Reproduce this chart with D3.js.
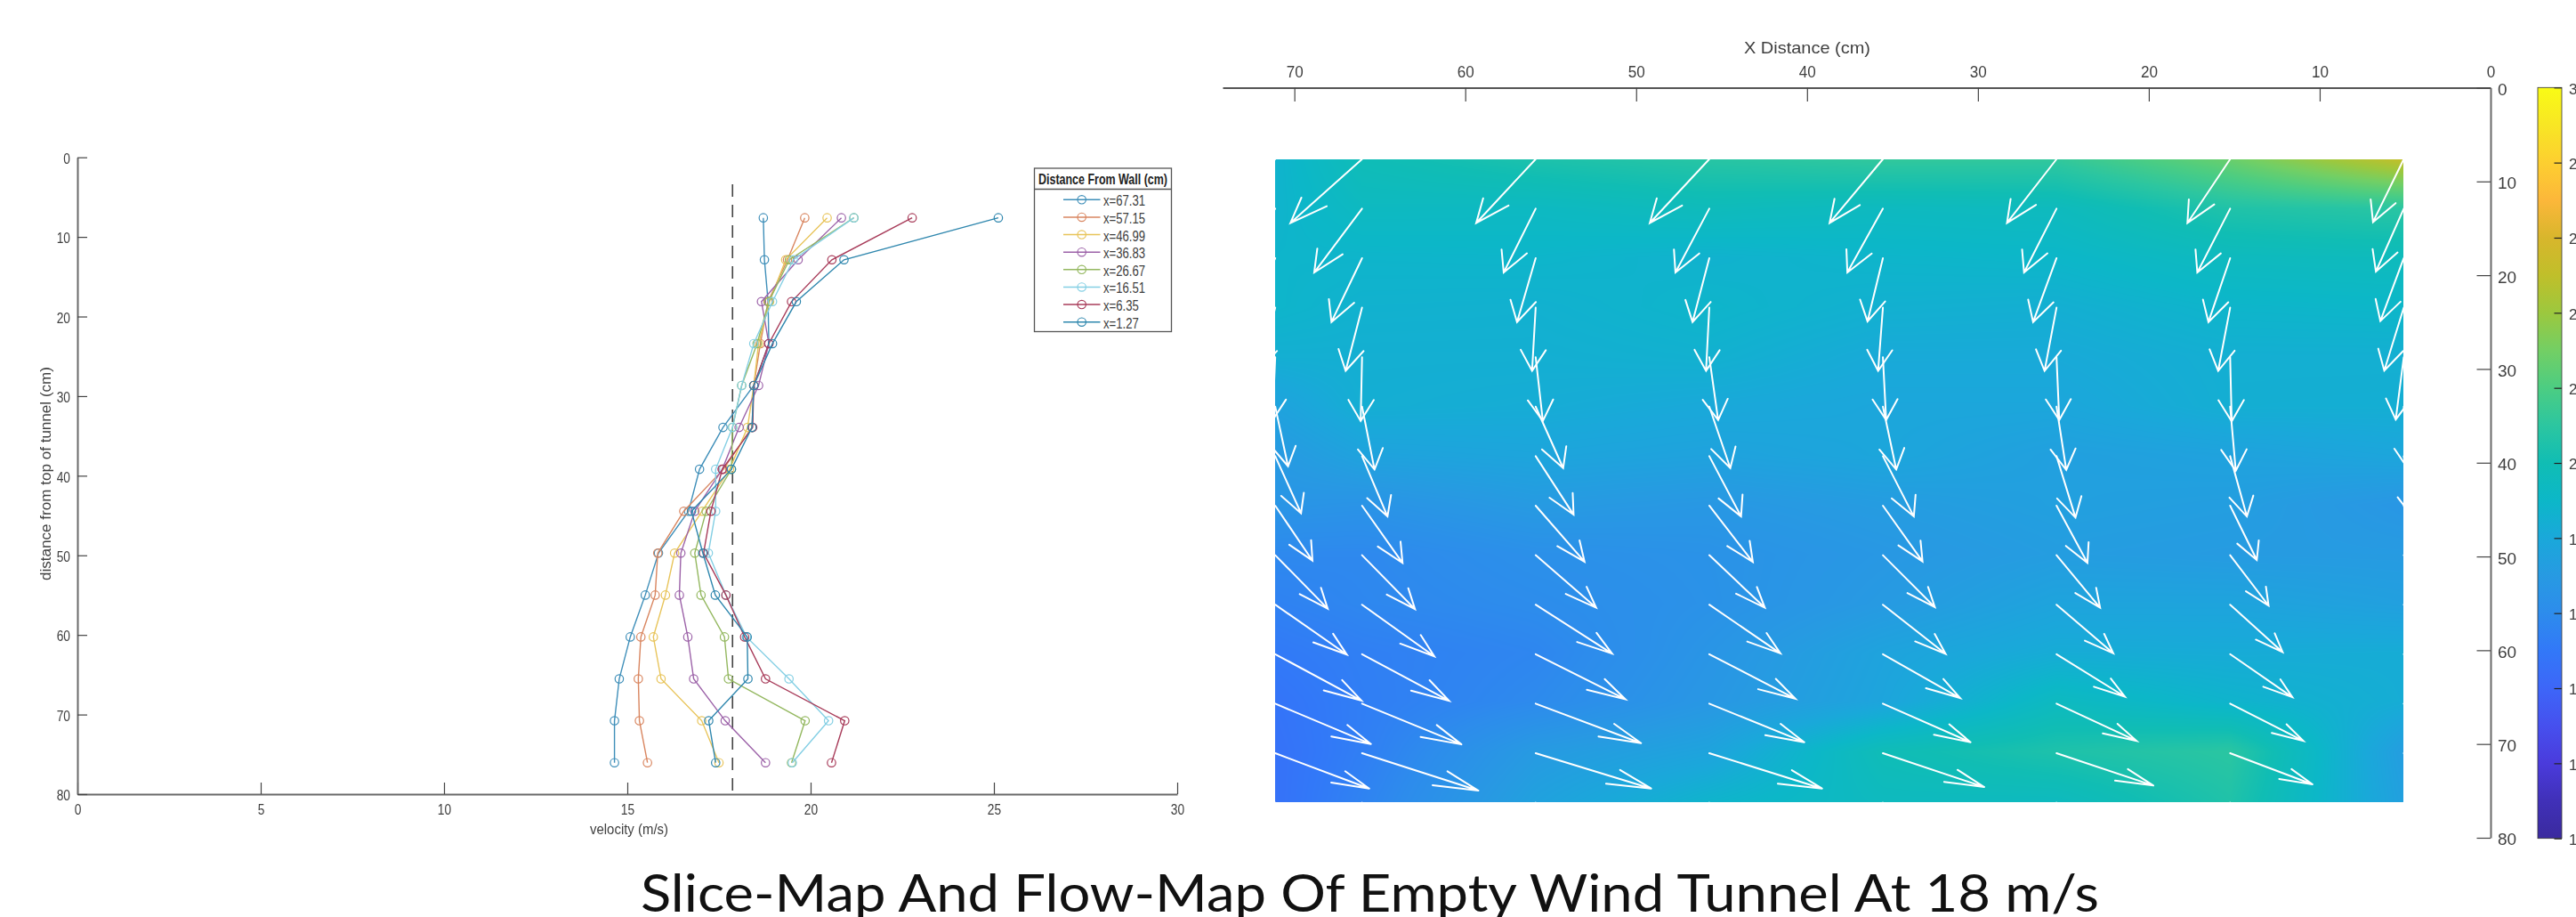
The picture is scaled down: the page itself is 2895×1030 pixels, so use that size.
<!DOCTYPE html>
<html>
<head>
<meta charset="utf-8">
<script src="https://cdn.jsdelivr.net/npm/d3@7"></script>
<style>
  html, body { margin: 0; padding: 0; background: #fff; overflow: hidden; }
  #wrap { position: relative; width: 2895px; height: 1030px; overflow: hidden; }
  canvas, svg { position: absolute; left: 0; top: 0; }
  text { font-family: "Liberation Sans", Arial, sans-serif; fill: #404040; }
</style>
</head>
<body>
<div id="wrap">
  <canvas id="heat"></canvas>
  <svg id="chart" width="2895" height="1030"></svg>
</div>
<script>
// depth of each measuring row, cm from top of tunnel
var depths = [7.6, 12.87, 18.13, 23.4, 28.66, 33.93, 39.19, 44.46, 49.72, 54.99, 60.25, 65.52, 70.78, 76.05]

var seriesNames = ['x=67.31', 'x=57.15', 'x=46.99', 'x=36.83', 'x=26.67', 'x=16.51', 'x=6.35', 'x=1.27']
var seriesColors = ['#3f8fb9', '#d98660', '#e8c45a', '#9c62a8', '#94b860', '#84cfe4', '#a83c5a', '#2f87ae']

var v6731 = [18.71, 18.74, 18.84, 18.86, 18.45, 17.61, 16.97, 16.67, 15.85, 15.49, 15.08, 14.78, 14.65, 14.65]
var v5715 = [19.84, 19.37, 18.84, 18.63, 18.45, 18.40, 17.62, 16.54, 15.83, 15.76, 15.37, 15.30, 15.33, 15.55]
var v4699 = [20.45, 19.32, 18.88, 18.58, 18.45, 18.28, 17.79, 17.04, 16.29, 16.04, 15.71, 15.92, 17.03, 17.50]
var v3683 = [20.84, 19.66, 18.66, 18.86, 18.58, 18.05, 17.59, 16.84, 16.46, 16.42, 16.65, 16.81, 17.67, 18.77]
var v2667 = [21.18, 19.42, 18.86, 18.54, 18.12, 17.87, 17.84, 17.15, 16.84, 17.01, 17.65, 17.76, 19.85, 19.48]
var v1651 = [21.18, 19.53, 18.96, 18.45, 18.12, 17.87, 17.41, 17.41, 17.21, 17.69, 18.25, 19.41, 20.49, 19.50]
var v635  = [22.77, 20.58, 19.48, 18.86, 18.45, 18.42, 17.59, 17.28, 17.08, 17.69, 18.20, 18.77, 20.93, 20.57]
var v127  = [25.12, 20.91, 19.61, 18.96, 18.45, 18.40, 17.84, 16.75, 17.06, 17.40, 18.27, 18.29, 17.22, 17.41]
var seriesValues = [v6731, v5715, v4699, v3683, v2667, v1651, v635, v127]

// map columns, X=5.08 holds the x=1.27 series, X=71.12 holds x=67.31
var mapColumns = [5.08, 15.24, 25.4, 35.56, 45.72, 55.88, 66.04, 71.12]
var mapSeries = [v127, v635, v1651, v2667, v3683, v4699, v5715, v6731]
var mapRows = [7.62, 12.9, 18.18, 23.46, 28.74, 34.02, 39.3, 44.58, 49.86, 55.14, 60.42, 65.7, 70.98, 76.26]

// flow arrows: drift in cm towards X=0 (negative is away from it), per column
var u508  = [-1.80, -1.63, -1.37, -1.14, -0.47, 0.26, 0.52, 1.04, 1.56, 2.34, 3.12, 3.90, 4.42, 4.68]
var u1524 = [-2.50, -1.92, -1.27, -0.70, 0.09, 0.33, 0.98, 1.56, 2.25, 3.07, 3.64, 4.28, 4.82, 5.04]
var u254  = [-2.90, -1.90, -1.37, -0.70, 0.16, 0.57, 1.11, 1.81, 2.55, 3.32, 4.00, 4.68, 5.67, 5.88]
var u3556 = [-3.12, -2.08, -0.90, -0.28, 0.19, 0.78, 1.81, 2.32, 3.04, 3.67, 4.52, 5.13, 5.93, 6.14]
var u4572 = [-3.48, -1.98, -0.98, -0.19, 0.52, 1.23, 1.86, 2.55, 3.25, 4.16, 5.04, 5.56, 6.60, 6.86]
var u5588 = [-3.48, -1.87, -1.09, -0.21, 0.42, 1.61, 2.22, 2.86, 3.54, 4.47, 5.25, 6.17, 6.76, 7.02]
var u6604 = [-4.19, -2.80, -1.79, -0.96, -0.08, 0.73, 1.49, 2.37, 3.10, 4.23, 5.09, 5.82, 6.81, 7.28]
var u7112 = [-4.16, -2.81, -1.77, -0.94, -0.16, 0.75, 1.51, 2.18, 3.07, 4.19, 5.04, 5.60, 5.50, 5.72]
var flowU = [u508, u1524, u254, u3556, u4572, u5588, u6604, u7112]

// flow arrows: downward drift in cm
var w508  = [6.71, 6.71, 6.71, 6.71, 6.65, 6.65, 6.46, 5.89, 5.41, 5.03, 4.56, 3.99, 3.32, 3.13]
var w1524 = [6.81, 6.81, 6.81, 6.74, 6.84, 6.84, 6.43, 5.79, 5.38, 5.06, 4.59, 3.96, 3.32, 3.13]
var w254  = [6.81, 6.81, 6.81, 6.74, 6.71, 6.74, 6.55, 6.11, 5.60, 5.19, 4.53, 3.96, 3.45, 3.23]
var w3556 = [6.81, 6.81, 6.74, 6.74, 6.71, 6.70, 6.43, 5.95, 5.54, 5.25, 4.68, 4.11, 3.61, 3.42]
var w4572 = [6.81, 6.81, 6.81, 6.74, 6.71, 6.55, 6.43, 6.01, 5.60, 5.19, 4.75, 4.11, 3.77, 3.61]
var w5588 = [6.81, 6.81, 6.81, 6.74, 6.81, 6.55, 6.24, 5.98, 5.60, 5.22, 4.81, 4.21, 3.77, 3.61]
var w6604 = [6.81, 6.81, 6.81, 6.74, 6.81, 6.70, 6.43, 6.11, 5.76, 5.51, 4.97, 4.34, 3.99, 3.80]
var w7112 = [6.81, 6.81, 6.81, 6.74, 6.74, 6.36, 6.08, 5.86, 5.70, 5.32, 4.94, 4.30, 3.77, 3.61]
var flowW = [w508, w1524, w254, w3556, w4572, w5588, w6604, w7112]

var speedTicks = [0, 5, 10, 15, 20, 25, 30]
var depthTicks = [0, 10, 20, 30, 40, 50, 60, 70, 80]
var mapXTicks = [70, 60, 50, 40, 30, 20, 10, 0]
var barTicks = [10, 12, 14, 16, 18, 20, 22, 24, 26, 28, 30]

var colorSpeeds = [10, 11, 12, 13, 14, 15, 16, 17, 18, 19, 20, 21, 22, 23, 24, 25, 26, 27, 28, 29, 30]
var colorStops = ['#3a2a9e', '#4030b8', '#4a3bdc', '#4650ee', '#3d66f8', '#3278f8', '#2d8cec', '#279ae2', '#1aa8da', '#0cb7c8', '#10bdb4', '#2cc6a0', '#4ccd82', '#73cf64', '#9cc83e', '#c0bf2a', '#d8b62c', '#fcb73a', '#fdcf30', '#f8e624', '#f9fb15']

var cutoffSpeed = 17.87

var svg = d3.select('#chart')
var gray = '#6a6a6a'

// squeeze a text sideways, the picture was stretched when it was pasted together
function squeeze (sel, k) {
  sel.each(function () {
    var len = this.getComputedTextLength()
    d3.select(this).attr('textLength', len * k).attr('lengthAdjust', 'spacingAndGlyphs')
  })
}

function fitTo (sel, len) {
  sel.attr('textLength', len).attr('lengthAdjust', 'spacingAndGlyphs')
}

function cleanAxis (g) {
  g.select('.domain').attr('stroke', gray).attr('stroke-width', 2)
  g.selectAll('.tick line').attr('stroke', '#444').attr('stroke-width', 1.2)
  g.selectAll('.tick text').attr('fill', '#404040')
  g.attr('font-family', null)
}

//// slice plot on the left
var xSpeed = d3.scaleLinear().domain([0, 30]).range([87, 1323])
var yDepth = d3.scaleLinear().domain([0, 80]).range([176.7, 892])

var xAxisLeft = svg.append('g')
  .attr('transform', 'translate(0,' + yDepth(80) + ')')
  .call(d3.axisBottom(xSpeed).tickValues(speedTicks).tickSize(-13).tickSizeOuter(0).tickPadding(12))
  .call(cleanAxis)
xAxisLeft.selectAll('.tick text').attr('font-size', 16).call(squeeze, 0.86)

var yAxisLeft = svg.append('g')
  .attr('transform', 'translate(' + xSpeed(0) + ',0)')
  .call(d3.axisLeft(yDepth).tickValues(depthTicks).tickSize(-11).tickSizeOuter(0).tickPadding(8))
  .call(cleanAxis)
yAxisLeft.selectAll('.tick text').attr('font-size', 16).attr('dy', '0.42em').call(squeeze, 0.86)

svg.append('text').attr('x', 707).attr('y', 937).attr('text-anchor', 'middle')
  .attr('font-size', 17).text('velocity (m/s)').call(fitTo, 88)
svg.append('text').attr('transform', 'translate(57,532) rotate(-90)').attr('text-anchor', 'middle')
  .attr('font-size', 16).text('distance from top of tunnel (cm)').call(fitTo, 240)

svg.append('line')
  .attr('x1', xSpeed(cutoffSpeed)).attr('x2', xSpeed(cutoffSpeed))
  .attr('y1', 207).attr('y2', yDepth(80))
  .attr('stroke', '#444').attr('stroke-width', 1.6).attr('stroke-dasharray', '14 9')

var lineGen = d3.line().x(function (d) { return xSpeed(d) }).y(function (d, i) { return yDepth(depths[i]) })
seriesValues.forEach(function (vals, s) {
  var g = svg.append('g')
  g.append('path').attr('d', lineGen(vals)).attr('fill', 'none')
    .attr('stroke', seriesColors[s]).attr('stroke-width', 1.4)
  g.selectAll('circle').data(vals).join('circle')
    .attr('cx', function (d) { return xSpeed(d) })
    .attr('cy', function (d, i) { return yDepth(depths[i]) })
    .attr('r', 4.7).attr('fill', 'none')
    .attr('stroke', seriesColors[s]).attr('stroke-width', 1.2)
})

// legend
var legend = svg.append('g')
legend.append('rect').attr('x', 1162.5).attr('y', 189).attr('width', 154).attr('height', 183.5)
  .attr('fill', '#fff').attr('stroke', '#555').attr('stroke-width', 1.3)
legend.append('line').attr('x1', 1162.5).attr('x2', 1316.5).attr('y1', 212.5).attr('y2', 212.5)
  .attr('stroke', '#555').attr('stroke-width', 1.3)
legend.append('text').attr('x', 1239.5).attr('y', 207).attr('text-anchor', 'middle')
  .attr('font-size', 16).attr('font-weight', 'bold').style('fill', '#222')
  .text('Distance From Wall (cm)').call(fitTo, 145)
var legendY = d3.scalePoint().domain(seriesNames).range([224.3, 361.7])
seriesNames.forEach(function (name, s) {
  var y = legendY(name)
  legend.append('line').attr('x1', 1195).attr('x2', 1236.5).attr('y1', y).attr('y2', y)
    .attr('stroke', seriesColors[s]).attr('stroke-width', 1.4)
  legend.append('circle').attr('cx', 1215.7).attr('cy', y).attr('r', 4.7).attr('fill', 'none')
    .attr('stroke', seriesColors[s]).attr('stroke-width', 1.2)
  legend.append('text').attr('x', 1240).attr('y', y + 7).attr('font-size', 16)
    .text(name).call(squeeze, 0.82)
})

//// flow map on the right
var xMap = d3.scaleLinear().domain([0, 74.2]).range([2799, 1374])
var yMap = d3.scaleLinear().domain([0, 80]).range([98.5, 941])

var color = d3.scaleLinear().domain(colorSpeeds).range(colorStops).clamp(true)

// heat image, bilinear between the measured rows and columns
var heatX0 = Math.round(xMap(71.12)), heatX1 = Math.round(xMap(5.08))
var heatY0 = Math.round(yMap(7.62)), heatY1 = Math.round(yMap(76.2))
var canvas = document.getElementById('heat')
canvas.width = 2895
canvas.height = 1030
var ctx = canvas.getContext('2d')

function between (arr, v) {
  var i = Math.min(arr.length - 2, Math.max(0, d3.bisectRight(arr, v) - 1))
  var t = (v - arr[i]) / (arr[i + 1] - arr[i])
  return [i, Math.max(0, Math.min(1, t))]
}

function paintHeat () {
  var img = ctx.createImageData(heatX1 - heatX0, heatY1 - heatY0)
  for (var py = heatY0; py < heatY1; py++) {
    var r = between(depths, yMap.invert(py + 0.5))
    for (var px = heatX0; px < heatX1; px++) {
      var c = between(mapColumns, xMap.invert(px + 0.5))
      var a = mapSeries[c[0]], b = mapSeries[c[0] + 1]
      var upper = a[r[0]] * (1 - c[1]) + b[r[0]] * c[1]
      var lower = a[r[0] + 1] * (1 - c[1]) + b[r[0] + 1] * c[1]
      var rgb = d3.rgb(color(upper * (1 - r[1]) + lower * r[1]))
      var k = ((py - heatY0) * (heatX1 - heatX0) + (px - heatX0)) * 4
      img.data[k] = rgb.r
      img.data[k + 1] = rgb.g
      img.data[k + 2] = rgb.b
      img.data[k + 3] = 255
    }
  }
  ctx.putImageData(img, heatX0, heatY0)
}
paintHeat()

// quiver, arrow heads worked out in axis units the way matlab does it
var alpha = 0.33, beta = 0.33
var arrowPaths = []
mapColumns.forEach(function (colX, c) {
  mapRows.forEach(function (rowY, r) {
    var u = flowU[c][r], w = flowW[c][r]
    var tipX = colX - u, tipY = rowY + w
    var h1x = tipX + alpha * (u + beta * w), h1y = tipY - alpha * (w - beta * u)
    var h2x = tipX + alpha * (u - beta * w), h2y = tipY - alpha * (w + beta * u)
    arrowPaths.push('M' + xMap(colX) + ',' + yMap(rowY) + 'L' + xMap(tipX) + ',' + yMap(tipY) +
      'M' + xMap(h1x) + ',' + yMap(h1y) + 'L' + xMap(tipX) + ',' + yMap(tipY) + 'L' + xMap(h2x) + ',' + yMap(h2y))
  })
})
svg.append('g').selectAll('path').data(arrowPaths).join('path')
  .attr('d', function (d) { return d })
  .attr('fill', 'none').attr('stroke', '#fff').attr('stroke-width', 2).attr('stroke-linecap', 'round')

// legend has to stay on top of the white arrow ends
svg.node().appendChild(legend.node())

var xAxisTop = svg.append('g')
  .attr('transform', 'translate(0,' + yMap(0) + ')')
  .call(d3.axisTop(xMap).tickValues(mapXTicks).tickSize(-15.5).tickSizeOuter(0).tickPadding(12))
  .call(cleanAxis)
xAxisTop.select('.domain').attr('stroke', '#555')
xAxisTop.selectAll('.tick text').attr('font-size', 19).attr('dy', 0).call(squeeze, 0.9)
xAxisTop.selectAll('.tick').filter(function (d) { return d === 0 }).select('line').remove()

var yAxisRight = svg.append('g')
  .attr('transform', 'translate(' + xMap(0) + ',0)')
  .call(d3.axisRight(yMap).tickValues(depthTicks).tickSize(-15.5).tickSizeOuter(0).tickPadding(8))
  .call(cleanAxis)
yAxisRight.selectAll('.tick text').attr('font-size', 19).attr('dy', '0.42em')

svg.append('text').attr('x', 2031).attr('y', 60).attr('text-anchor', 'middle')
  .attr('font-size', 19).text('X Distance (cm)').call(fitTo, 142)

// colorbar
var yBar = d3.scaleLinear().domain([10, 30]).range([941.7, 98.3])
var defs = svg.append('defs')
var grad = defs.append('linearGradient').attr('id', 'barGrad')
  .attr('x1', 0).attr('x2', 0).attr('y1', 1).attr('y2', 0)
grad.selectAll('stop').data(colorSpeeds).join('stop')
  .attr('offset', function (d) { return (d - 10) / 20 })
  .attr('stop-color', function (d) { return color(d) })
svg.append('rect').attr('x', 2852).attr('y', yBar(30)).attr('width', 27).attr('height', yBar(10) - yBar(30))
  .attr('fill', 'url(#barGrad)').attr('stroke', '#333').attr('stroke-width', 0.8)
var barAxis = svg.append('g')
  .attr('transform', 'translate(2879,0)')
  .call(d3.axisRight(yBar).tickValues(barTicks).tickSize(-8.5).tickSizeOuter(0).tickPadding(8))
barAxis.select('.domain').remove()
barAxis.selectAll('.tick line').attr('stroke', '#222').attr('stroke-width', 1.2)
barAxis.selectAll('.tick text').attr('font-size', 17).attr('fill', '#404040').attr('dy', '0.4em')

// title, clipped by the bottom of the window in the reference too
svg.append('text').attr('x', 1539.5).attr('y', 1024).attr('text-anchor', 'middle')
  .attr('font-size', 59).style('font-family', 'Lato, "Open Sans", sans-serif').style('fill', '#111')
  .text('Slice-Map And Flow-Map Of Empty Wind Tunnel At 18 m/s').call(fitTo, 1639)
</script>
</body>
</html>
